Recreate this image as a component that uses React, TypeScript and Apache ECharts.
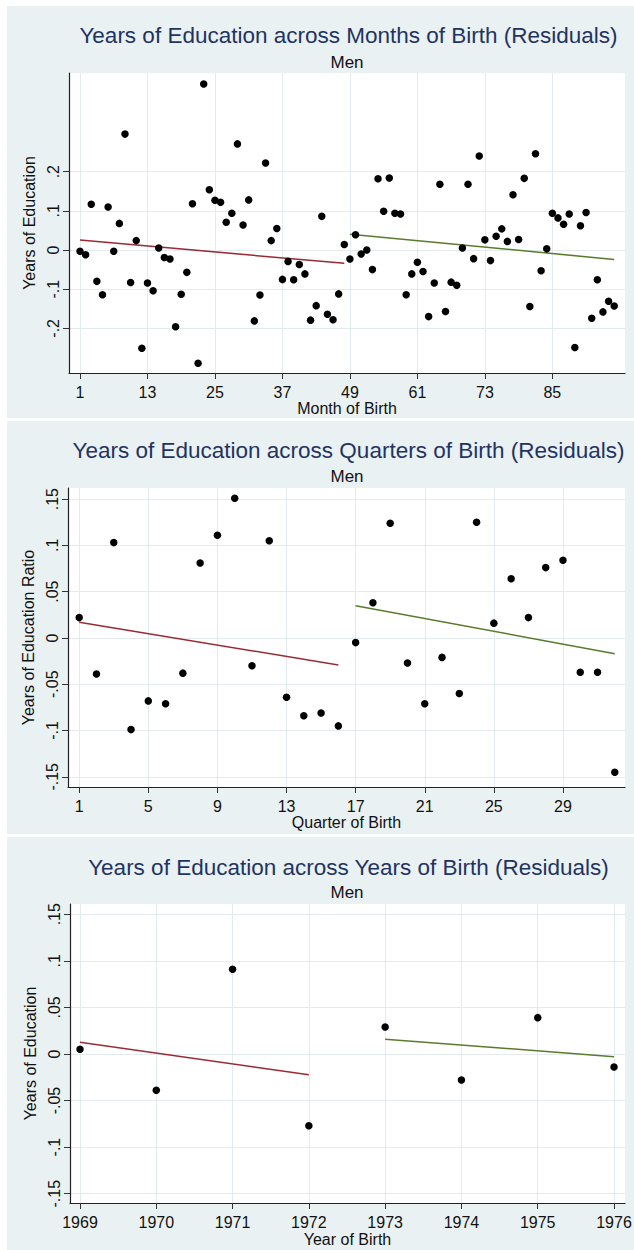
import React, { useEffect, useRef } from "react";
import * as echarts from "echarts";

// ---------- data ----------
const eduByMonth = [
  -0.003, -0.012, 0.117, -0.08, -0.114, 0.11, -0.003, 0.068, 0.296, -0.083,
  0.024, -0.251, -0.084, -0.104, 0.005, -0.019, -0.023, -0.196, -0.113, -0.057,
  0.118, -0.289, 0.424, 0.154, 0.127, 0.122, 0.071, 0.094, 0.271, 0.064,
  0.128, -0.181, -0.115, 0.222, 0.024, 0.055, -0.075, -0.029, -0.076, -0.037,
  -0.061, -0.179, -0.142, 0.086, -0.164, -0.178, -0.112, 0.014, -0.023, 0.039,
  -0.01, 0.0, -0.05, 0.182, 0.099, 0.184, 0.094, 0.092, -0.114, -0.061,
  -0.031, -0.055, -0.17, -0.084, 0.168, -0.157, -0.082, -0.09, 0.005, 0.168,
  -0.022, 0.24, 0.026, -0.027, 0.035, 0.054, 0.022, 0.141, 0.027, 0.183,
  -0.144, 0.246, -0.053, 0.003, 0.094, 0.082, 0.066, 0.092, -0.249, 0.062,
  0.096, -0.174, -0.076, -0.158, -0.131, -0.143,
];
const monthTicks = [1, 13, 25, 37, 49, 61, 73, 85];
const monthYTicks = [-0.2, -0.1, 0, 0.1, 0.2];
const monthFitA = [[1, 0.0255], [48, -0.034]];
const monthFitB = [[49, 0.04], [96, -0.024]];

const eduByQuarter = [
  0.022, -0.039, 0.103, -0.099, -0.068, -0.071, -0.038, 0.081, 0.111, 0.151,
  -0.03, 0.105, -0.064, -0.084, -0.081, -0.095, -0.005, 0.038, 0.124, -0.027,
  -0.071, -0.021, -0.06, 0.125, 0.016, 0.064, 0.022, 0.076, 0.084, -0.037,
  -0.037, -0.145,
];
const quarterTicks = [1, 5, 9, 13, 17, 21, 25, 29];
const quarterYTicks = [-0.15, -0.1, -0.05, 0, 0.05, 0.1, 0.15];
const quarterFitA = [[1, 0.0169], [16, -0.0292]];
const quarterFitB = [[17, 0.0349], [32, -0.017]];

const birthYears = [1969, 1970, 1971, 1972, 1973, 1974, 1975, 1976];
const eduByYear = [0.005, -0.039, 0.091, -0.077, 0.029, -0.028, 0.039, -0.014];
const yearYTicks = [-0.15, -0.1, -0.05, 0, 0.05, 0.1, 0.15];
const yearFitA = [[1969, 0.0125], [1972, -0.0222]];
const yearFitB = [[1973, 0.0158], [1976, -0.0029]];

const titles = [
  "Years of Education across Months of Birth (Residuals)",
  "Years of Education across Quarters of Birth (Residuals)",
  "Years of Education across Years of Birth (Residuals)",
];
const subtitle = "Men";
const xNames = ["Month of Birth", "Quarter of Birth", "Year of Birth"];
const yNames = ["Years of Education", "Years of Education Ratio", "Years of Education"];

// ---------- layout / style ----------
const FONT = "'Liberation Sans', Arial, Helvetica, sans-serif";
const BG = "#eaf1f3";
const GRIDLINE = "#e3ebee";
const RED = "#9a2b35";
const GREEN = "#5a7b2c";

const panels = [
  { bg: [7, 6, 627, 412], title: 35, sub: 62, grid: { left: 69, top: 73, width: 556, height: 300 }, x: [-0.956, 97.92], y: [-0.314, 0.452], xGap: 26 },
  { bg: [7, 421, 627, 413], title: 450, sub: 476, grid: { left: 68, top: 488, width: 557, height: 299 }, x: [0.352, 32.59], y: [-0.161, 0.162], xGap: 27 },
  { bg: [7, 837, 627, 413], title: 867, sub: 892, grid: { left: 70, top: 904, width: 555, height: 299 }, x: [1968.869, 1976.144], y: [-0.16, 0.161], xGap: 28 },
];

const fmtY = (v: number) => {
  const r = Math.round(v * 100) / 100;
  if (r === 0) return "0";
  return String(r).replace("0.", ".");
};

export default function App() {
  const ref = useRef<HTMLDivElement>(null);
  useEffect(() => {
    document.body.style.margin = "0";
    if (!ref.current) return;
    const chart = echarts.init(ref.current, undefined, { renderer: "svg" });

    const scatterSets = [
      eduByMonth.map((v, i) => [i + 1, v]),
      eduByQuarter.map((v, i) => [i + 1, v]),
      eduByYear.map((v, i) => [birthYears[i], v]),
    ];
    const fits = [
      [monthFitA, monthFitB],
      [quarterFitA, quarterFitB],
      [yearFitA, yearFitB],
    ];
    const xTicks = [monthTicks, quarterTicks, birthYears];
    const yTicks = [monthYTicks, quarterYTicks, yearYTicks];

    const graphic: any[] = [];
    panels.forEach((p, i) => {
      graphic.push({
        type: "rect",
        z: -100,
        shape: { x: p.bg[0], y: p.bg[1], width: p.bg[2], height: p.bg[3] },
        style: { fill: BG },
        silent: true,
      });
      graphic.push({
        type: "text",
        x: 348.5,
        y: p.title,
        style: { text: titles[i], fontSize: 22.5, fontFamily: FONT, fill: "#1f3461", textAlign: "center", textVerticalAlign: "middle" },
      });
      graphic.push({
        type: "text",
        x: 347,
        y: p.sub,
        style: { text: subtitle, fontSize: 17, fontFamily: FONT, fill: "#111", textAlign: "center", textVerticalAlign: "middle" },
      });
    });

    const grid = panels.map((p) => ({
      ...p.grid,
      show: true,
      backgroundColor: "#ffffff",
      borderWidth: 0,
      containLabel: false,
      outerBoundsMode: "none",
    }));

    const xAxis = panels.map((p, i) => ({
      type: "value",
      gridIndex: i,
      min: p.x[0],
      max: p.x[1],
      name: xNames[i],
      nameLocation: "middle",
      nameGap: p.xGap,
      nameTextStyle: { fontSize: 16, color: "#111", fontFamily: FONT },
      axisLine: { show: true, onZero: false, lineStyle: { color: "#222", width: 1.2 } },
      axisTick: { show: true, length: 6, lineStyle: { color: "#333", width: 1 }, customValues: xTicks[i] },
      axisLabel: { fontSize: 16, color: "#111", fontFamily: FONT, margin: 11, customValues: xTicks[i], formatter: (v: number) => String(v) },
      splitLine: { show: true, lineStyle: { color: GRIDLINE, width: 1 } },
    }));

    const yAxis = panels.map((p, i) => ({
      type: "value",
      gridIndex: i,
      min: p.y[0],
      max: p.y[1],
      name: yNames[i],
      nameLocation: "middle",
      nameRotate: 90,
      nameGap: 22,
      nameTextStyle: { fontSize: 16, color: "#111", fontFamily: FONT },
      axisLine: { show: true, onZero: false, lineStyle: { color: "#222", width: 1.2 } },
      axisTick: { show: true, length: 6, lineStyle: { color: "#333", width: 1 }, customValues: yTicks[i] },
      axisLabel: { fontSize: 16, color: "#111", fontFamily: FONT, margin: 8, rotate: 90, customValues: yTicks[i], formatter: fmtY },
      splitLine: { show: true, lineStyle: { color: GRIDLINE, width: 1 } },
    }));

    const series: any[] = [];
    panels.forEach((_, i) => {
      series.push({
        type: "scatter",
        xAxisIndex: i,
        yAxisIndex: i,
        data: scatterSets[i],
        symbol: "circle",
        symbolSize: 7.5,
        itemStyle: { color: "#000", opacity: 1 },
        z: 3,
      });
      fits[i].forEach((f, k) => {
        series.push({
          type: "line",
          xAxisIndex: i,
          yAxisIndex: i,
          data: f,
          symbol: "none",
          showSymbol: false,
          lineStyle: { color: k === 0 ? RED : GREEN, width: 1.5 },
          z: 2,
        });
      });
    });

    chart.setOption({
      animation: false,
      backgroundColor: "#ffffff",
      textStyle: { fontFamily: FONT },
      graphic: { elements: graphic },
      grid,
      xAxis,
      yAxis,
      series,
    });
    return () => chart.dispose();
  }, []);

  return <div ref={ref} style={{ position: "absolute", left: 0, top: 0, width: 634, height: 1250 }} />;
}
